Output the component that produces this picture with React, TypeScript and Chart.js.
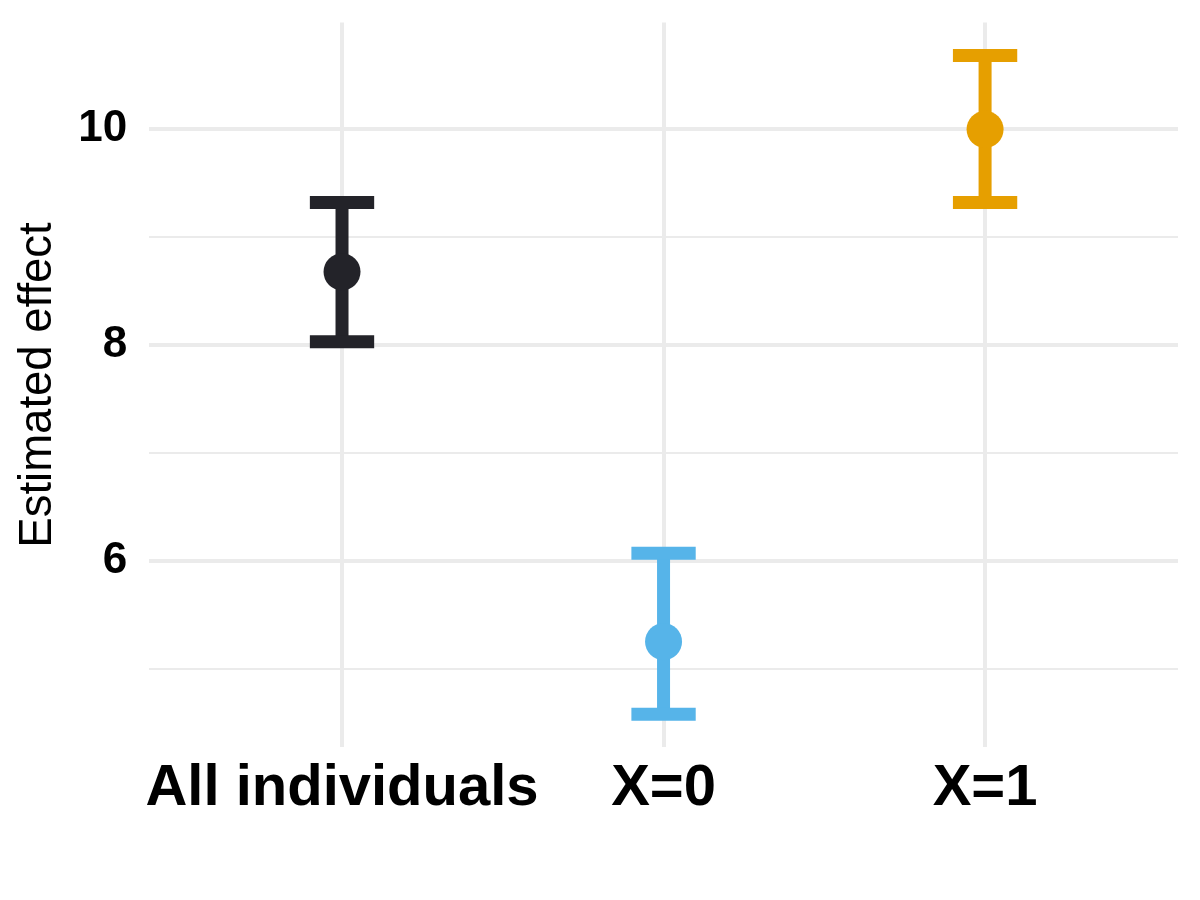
import React, { useEffect, useRef } from "react";
import { Chart, registerables } from "chart.js";

Chart.register(...registerables);

const categories = ["All individuals", "X=0", "X=1"];
const estimates = [8.68, 5.256, 10.0];
const lowerCI = [8.032, 4.583, 9.322];
const upperCI = [9.322, 6.074, 10.683];
const pointColors = ["#232329", "#56B4E9", "#E69F00"];
const yTickValues = [5, 6, 7, 8, 9, 10];
const yLabeledTicks = [6, 8, 10];

const FONT = "'Liberation Sans', Arial, Helvetica, sans-serif";

const errorBarPlugin = {
  id: "errorBars",
  beforeDatasetsDraw(chart: any) {
    const { ctx, scales } = chart;
    const xs = scales.x;
    const ys = scales.y;
    ctx.save();
    categories.forEach((_, i) => {
      const xv = i + 1;
      const x = xs.getPixelForValue(xv);
      const xl = xs.getPixelForValue(xv - 0.1);
      const xr = xs.getPixelForValue(xv + 0.1);
      const yHi = ys.getPixelForValue(upperCI[i]);
      const yLo = ys.getPixelForValue(lowerCI[i]);
      ctx.strokeStyle = pointColors[i];
      ctx.lineWidth = 13;
      ctx.lineCap = "butt";
      ctx.beginPath();
      ctx.moveTo(x, yHi);
      ctx.lineTo(x, yLo);
      ctx.stroke();
      ctx.beginPath();
      ctx.moveTo(xl, yHi);
      ctx.lineTo(xr, yHi);
      ctx.moveTo(xl, yLo);
      ctx.lineTo(xr, yLo);
      ctx.stroke();
    });
    ctx.restore();
  },
};

export default function App() {
  const ref = useRef<HTMLCanvasElement | null>(null);

  useEffect(() => {
    if (!ref.current) return;
    const chart = new Chart(ref.current, {
      type: "scatter",
      data: {
        datasets: [
          {
            data: estimates.map((v, i) => ({ x: i + 1, y: v })),
            backgroundColor: pointColors,
            borderWidth: 0,
            pointRadius: 18.5,
            pointHoverRadius: 18.5,
          },
        ],
      },
      plugins: [errorBarPlugin],
      options: {
        animation: false,
        responsive: false,
        devicePixelRatio: 1,
        events: [],
        layout: { padding: { top: 22.6, right: 22, left: 0, bottom: 0 } },
        plugins: { legend: { display: false }, tooltip: { enabled: false } },
        scales: {
          x: {
            type: "linear",
            position: "bottom",
            min: 0.4,
            max: 3.6,
            afterBuildTicks: (scale: any) => {
              scale.ticks = categories.map((_, i) => ({ value: i + 1 }));
            },
            afterFit: (scale: any) => {
              scale.height = 152.7;
              scale.paddingLeft = 0;
              scale.paddingRight = 0;
            },
            grid: { color: "#EBEBEB", lineWidth: 4, drawTicks: false },
            border: { display: false },
            ticks: {
              padding: 7,
              color: "#000000",
              font: { family: FONT, size: 58, weight: "bold", lineHeight: 1.2 },
              maxRotation: 0,
              autoSkip: false,
              callback: (v: any) => categories[Math.round(Number(v)) - 1] ?? "",
            },
          },
          y: {
            type: "linear",
            min: 4.278,
            max: 10.988,
            afterBuildTicks: (scale: any) => {
              scale.ticks = yTickValues.map((v) => ({ value: v }));
            },
            afterFit: (scale: any) => {
              scale.width = 149.1;
              scale.paddingTop = 0;
              scale.paddingBottom = 0;
            },
            grid: {
              color: "#EBEBEB",
              drawTicks: false,
              lineWidth: (c: any) =>
                yLabeledTicks.includes(c.tick?.value) ? 4 : 2,
            },
            border: { display: false },
            ticks: {
              padding: 22,
              color: "#000000",
              font: { family: FONT, size: 44, weight: "bold" },
              autoSkip: false,
              callback: (v: any) =>
                yLabeledTicks.includes(Number(v)) ? String(v) : "",
            },
            title: {
              display: true,
              text: "Estimated effect",
              color: "#000000",
              font: { family: FONT, size: 45.5, weight: "normal", lineHeight: 1.2 },
              padding: { top: 11.5, bottom: 0 },
            },
          },
        },
      },
    });
    return () => chart.destroy();
  }, []);

  return (
    <div style={{ position: "absolute", left: 0, top: 0, width: 1200, height: 900, background: "#fff" }}>
      <canvas ref={ref} width={1200} height={900} style={{ width: 1200, height: 900 }} />
    </div>
  );
}
